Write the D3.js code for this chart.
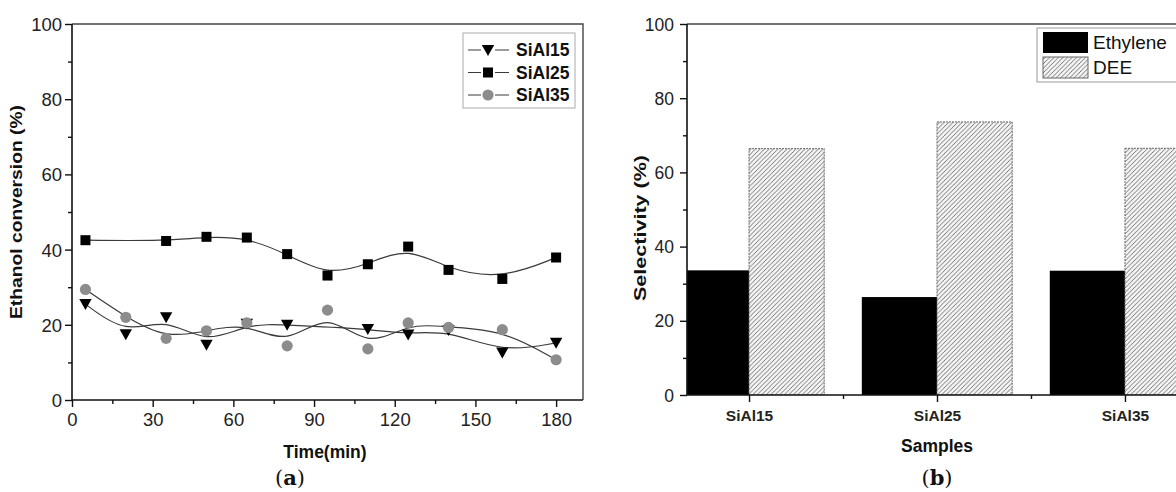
<!DOCTYPE html>
<html>
<head>
<meta charset="utf-8">
<script src="https://cdn.jsdelivr.net/npm/d3@7/dist/d3.min.js"></script>
<style>
  html, body { margin: 0; padding: 0; background: #ffffff; }
  svg { display: block; font-family: "Liberation Sans", Arial, sans-serif; }
</style>
</head>
<body>
<svg id="chart" width="1176" height="492"></svg>
<script>
// ---------- Data: panel (a) ----------
const timeTicks = [0, 30, 60, 90, 120, 150, 180];
const convTicks = [0, 20, 40, 60, 80, 100];
const seriesNames = ["SiAl15", "SiAl25", "SiAl35"];
const sial15Time = [5, 20, 35, 50, 65, 80, 110, 125, 140, 160, 180];
const sial15Conv = [25.5, 17.5, 22.0, 14.7, 20.3, 20.0, 18.9, 17.4, 18.6, 12.6, 15.2];
const sial25Time = [5, 35, 50, 65, 80, 95, 110, 125, 140, 160, 180];
const sial25Conv = [42.5, 42.3, 43.4, 43.2, 38.8, 33.1, 36.1, 40.8, 34.6, 32.2, 37.9];
const sial35Time = [5, 20, 35, 50, 65, 80, 95, 110, 125, 140, 160, 180];
const sial35Conv = [29.4, 22.0, 16.4, 18.4, 20.5, 14.4, 23.9, 13.6, 20.5, 19.3, 18.7, 10.7];

// ---------- Data: panel (b) ----------
const samples = ["SiAl15", "SiAl25", "SiAl35"];
const ethylene = [33.6, 26.4, 33.5];
const dee = [66.4, 73.6, 66.5];
const selTicks = [0, 20, 40, 60, 80, 100];
const productNames = ["Ethylene", "DEE"];

const svg = d3.select("#chart");
const defs = svg.append("defs");

// hatch pattern
const pat = defs.append("pattern")
  .attr("id", "hatch").attr("patternUnits", "userSpaceOnUse")
  .attr("width", 4.5).attr("height", 4.5);
pat.append("rect").attr("width", 4.5).attr("height", 4.5).attr("fill", "#f4f4f4");
pat.append("path")
  .attr("d", "M-1,1 L1,-1 M0,4.5 L4.5,0 M3.5,5.5 L5.5,3.5")
  .attr("stroke", "#555").attr("stroke-width", 0.8);

function styleAxis(g) {
  g.select(".domain").remove();
  g.selectAll(".tick line").attr("stroke", "#111").attr("stroke-width", 1.4);
  g.selectAll(".tick text").attr("fill", "#222").attr("font-family", "'Liberation Sans', Arial, sans-serif");
}

// ================= Panel (a) =================
const A = { left: 72, right: 583, top: 24, bottom: 400 };
const xA = d3.scaleLinear().domain([0, 190]).range([A.left, A.right]);
const yA = d3.scaleLinear().domain([0, 100]).range([A.bottom, A.top]);
const gA = svg.append("g");

// minor ticks
gA.append("g").attr("transform", `translate(0,${A.bottom})`)
  .call(d3.axisBottom(xA).tickValues(d3.range(15, 190, 30)).tickSize(4).tickFormat(""))
  .call(styleAxis);
gA.append("g").attr("transform", `translate(${A.left},0)`)
  .call(d3.axisLeft(yA).tickValues(d3.range(10, 100, 20)).tickSize(4).tickFormat(""))
  .call(styleAxis);
// major ticks
gA.append("g").attr("transform", `translate(0,${A.bottom})`)
  .call(d3.axisBottom(xA).tickValues(timeTicks).tickSize(7).tickPadding(6))
  .call(styleAxis)
  .call(g => g.selectAll(".tick text").attr("font-size", 18.5));
gA.append("g").attr("transform", `translate(${A.left},0)`)
  .call(d3.axisLeft(yA).tickValues(convTicks).tickSize(7).tickPadding(3))
  .call(styleAxis)
  .call(g => g.selectAll(".tick text").attr("font-size", 18.5).attr("dy", "0.35em"));

// frame
gA.append("path")
  .attr("d", `M${A.left},${A.top} L${A.right},${A.top} L${A.right},${A.bottom}`)
  .attr("fill", "none").attr("stroke", "#444").attr("stroke-width", 1.4);
gA.append("path")
  .attr("d", `M${A.left},${A.top} L${A.left},${A.bottom} L${A.right},${A.bottom}`)
  .attr("fill", "none").attr("stroke", "#111").attr("stroke-width", 1.6);

const lineGen = d3.line().x(d => xA(d[0])).y(d => yA(d[1])).curve(d3.curveBasis);
const seriesA = [
  { name: seriesNames[0], pts: sial15Time.map((t, i) => [t, sial15Conv[i]]), marker: "tri", color: "#000" },
  { name: seriesNames[1], pts: sial25Time.map((t, i) => [t, sial25Conv[i]]), marker: "sq", color: "#000" },
  { name: seriesNames[2], pts: sial35Time.map((t, i) => [t, sial35Conv[i]]), marker: "circ", color: "#8c8c8c" }
];
seriesA.forEach(s => {
  gA.append("path").attr("d", lineGen(s.pts))
    .attr("fill", "none").attr("stroke", "#3a3a3a").attr("stroke-width", 1.2);
});
function drawMarker(g, type, x, y, color) {
  if (type === "sq") {
    g.append("rect").attr("x", x - 5).attr("y", y - 5).attr("width", 10).attr("height", 10).attr("fill", color);
  } else if (type === "tri") {
    g.append("path").attr("d", `M${x - 6.2},${y - 5} L${x + 6.2},${y - 5} L${x},${y + 6}Z`).attr("fill", color);
  } else {
    g.append("circle").attr("cx", x).attr("cy", y).attr("r", 5.6).attr("fill", color);
  }
}
seriesA.forEach(s => {
  s.pts.forEach(p => drawMarker(gA, s.marker, xA(p[0]), yA(p[1]), s.color));
});

// legend (a)
const legA = gA.append("g");
legA.append("rect").attr("x", 463).attr("y", 33).attr("width", 112).attr("height", 75)
  .attr("fill", "#fff").attr("stroke", "#aaa").attr("stroke-width", 1);
seriesA.forEach((s, i) => {
  const y = 50 + i * 22.5;
  legA.append("line").attr("x1", 468).attr("x2", 509).attr("y1", y).attr("y2", y)
    .attr("stroke", "#3a3a3a").attr("stroke-width", 1.2);
  legA.append("rect").attr("x", 481).attr("y", y - 6).attr("width", 14).attr("height", 12).attr("fill", "#fff");
  drawMarker(legA, s.marker, 488, y, s.color);
  legA.append("text").attr("x", 516).attr("y", y).attr("dy", "0.36em")
    .attr("font-size", 17.5).attr("font-weight", "bold").attr("fill", "#111").text(s.name);
});

// titles (a)
gA.append("text").attr("transform", `translate(22,212) rotate(-90)`)
  .attr("text-anchor", "middle").attr("font-size", 17).attr("font-weight", "bold")
  .attr("textLength", 214).attr("lengthAdjust", "spacingAndGlyphs")
  .attr("fill", "#111").text("Ethanol conversion (%)");
gA.append("text").attr("x", 325).attr("y", 458).attr("text-anchor", "middle")
  .attr("font-size", 17.5).attr("font-weight", "bold").attr("fill", "#111").text("Time(min)");
const la = gA.append("text").attr("x", 290).attr("y", 485).attr("text-anchor", "middle")
  .attr("font-family", "'DejaVu Serif', 'Liberation Serif', serif").attr("font-size", 21).attr("fill", "#111");
la.append("tspan").text("(");
la.append("tspan").attr("font-weight", "bold").text("a");
la.append("tspan").text(")");

// ================= Panel (b) =================
const B = { left: 687, right: 1187, top: 24, bottom: 395 };
const xB = d3.scaleLinear().domain([0.67, 3.33]).range([B.left, B.right]);
const yB = d3.scaleLinear().domain([0, 100]).range([B.bottom, B.top]);
const gB = svg.append("g");
defs.append("clipPath").attr("id", "clipB").append("rect")
  .attr("x", B.left).attr("y", B.top).attr("width", B.right - B.left).attr("height", B.bottom - B.top);

const barW = 0.4;
const bars = gB.append("g").attr("clip-path", "url(#clipB)");
samples.forEach((s, i) => {
  const c = i + 1;
  bars.append("rect")
    .attr("x", xB(c - barW)).attr("width", xB(c) - xB(c - barW))
    .attr("y", yB(ethylene[i])).attr("height", yB(0) - yB(ethylene[i]))
    .attr("fill", "#000");
  bars.append("rect")
    .attr("x", xB(c)).attr("width", xB(c + barW) - xB(c))
    .attr("y", yB(dee[i])).attr("height", yB(0) - yB(dee[i]))
    .attr("fill", "url(#hatch)").attr("stroke", "#666").attr("stroke-width", 1)
    .attr("stroke-dasharray", "2,1");
});

gB.append("g").attr("transform", `translate(${B.left},0)`)
  .call(d3.axisLeft(yB).tickValues(d3.range(10, 100, 20)).tickSize(4).tickFormat(""))
  .call(styleAxis);
gB.append("g").attr("transform", `translate(${B.left},0)`)
  .call(d3.axisLeft(yB).tickValues(selTicks).tickSize(7).tickPadding(6))
  .call(styleAxis)
  .call(g => g.selectAll(".tick text").attr("font-size", 17.5).attr("dy", "0.35em"));
gB.append("g").attr("transform", `translate(0,${B.bottom})`)
  .call(d3.axisBottom(xB).tickValues([1.5, 2.5]).tickSize(4).tickFormat(""))
  .call(styleAxis);
gB.append("g").attr("transform", `translate(0,${B.bottom})`)
  .call(d3.axisBottom(xB).tickValues([1, 2, 3]).tickSize(7).tickPadding(8).tickFormat(d => samples[d - 1]))
  .call(styleAxis)
  .call(g => g.selectAll(".tick text").attr("font-size", 15.5).attr("font-weight", "bold"));

gB.append("path")
  .attr("d", `M${B.left},${B.top} L${B.right},${B.top}`)
  .attr("fill", "none").attr("stroke", "#444").attr("stroke-width", 1.4);
gB.append("path")
  .attr("d", `M${B.left},${B.top} L${B.left},${B.bottom} L${B.right},${B.bottom}`)
  .attr("fill", "none").attr("stroke", "#111").attr("stroke-width", 1.6);

// legend (b)
const legB = gB.append("g");
legB.append("rect").attr("x", 1037).attr("y", 28).attr("width", 150).attr("height", 54)
  .attr("fill", "#fff").attr("stroke", "#999").attr("stroke-width", 1);
productNames.forEach((p, i) => {
  const y = 32 + i * 25;
  legB.append("rect").attr("x", 1043).attr("y", y).attr("width", 45).attr("height", 21)
    .attr("fill", i === 0 ? "#000" : "url(#hatch)")
    .attr("stroke", i === 0 ? "none" : "#666").attr("stroke-width", 1);
  legB.append("text").attr("x", 1093).attr("y", y + 10.5).attr("dy", "0.36em")
    .attr("font-size", 19).attr("fill", "#111").text(p);
});

gB.append("text").attr("transform", `translate(646,228) rotate(-90)`)
  .attr("text-anchor", "middle").attr("font-size", 17).attr("font-weight", "bold")
  .attr("textLength", 146).attr("lengthAdjust", "spacingAndGlyphs")
  .attr("fill", "#111").text("Selectivity (%)");
gB.append("text").attr("x", 937).attr("y", 452).attr("text-anchor", "middle")
  .attr("font-size", 17.5).attr("font-weight", "bold").attr("fill", "#111").text("Samples");
const lb = gB.append("text").attr("x", 937).attr("y", 485).attr("text-anchor", "middle")
  .attr("font-family", "'DejaVu Serif', 'Liberation Serif', serif").attr("font-size", 21).attr("fill", "#111");
lb.append("tspan").text("(");
lb.append("tspan").attr("font-weight", "bold").text("b");
lb.append("tspan").text(")");
</script>
</body>
</html>
